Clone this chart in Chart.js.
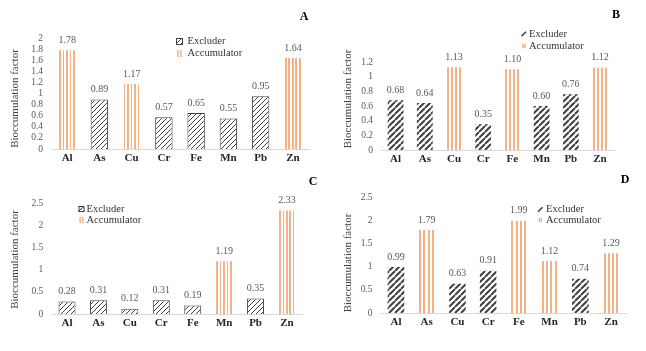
<!DOCTYPE html>
<html>
<head>
<meta charset="utf-8">
<script src="https://cdn.jsdelivr.net/npm/chart.js@4.4.0/dist/chart.umd.min.js"></script>
<style>
  html, body { margin: 0; padding: 0; background: #fff; }
  #wrap { position: relative; width: 646px; height: 351px; overflow: hidden; }
  canvas { position: absolute; }
</style>
</head>
<body>
<div id="wrap">
  <canvas id="chartA" width="323" height="175" style="left:0;top:0"></canvas>
  <canvas id="chartB" width="323" height="175" style="left:323px;top:0"></canvas>
  <canvas id="chartC" width="323" height="176" style="left:0;top:175px"></canvas>
  <canvas id="chartD" width="323" height="176" style="left:323px;top:175px"></canvas>
</div>
<script>
// metals on the x axis
const categories = ['Al', 'As', 'Cu', 'Cr', 'Fe', 'Mn', 'Pb', 'Zn'];
const seriesLabels = ['Excluder', 'Accumulator'];
const yTitle = 'Bioccumulation factor';

// values per panel (null = the metal is in the other group)
const excluderA    = [null, 0.89, null, 0.57, 0.65, 0.55, 0.95, null];
const accumulatorA = [1.78, null, 1.17, null, null, null, null, 1.64];
const excluderB    = [0.68, 0.64, null, 0.35, null, 0.60, 0.76, null];
const accumulatorB = [null, null, 1.13, null, 1.10, null, null, 1.12];
const excluderC    = [0.28, 0.31, 0.12, 0.31, 0.19, null, 0.35, null];
const accumulatorC = [null, null, null, null, null, 1.19, null, 2.33];
const excluderD    = [0.99, null, 0.63, 0.91, null, null, 0.74, null];
const accumulatorD = [null, 1.79, null, null, 1.99, 1.12, null, 1.29];

// y axis ticks per panel
const yMaxA = 2,   yStepA = 0.2;
const yMaxB = 1.2, yStepB = 0.2;
const yMaxC = 2.5, yStepC = 0.5;
const yMaxD = 2.5, yStepD = 0.5;

const FONT = '"Liberation Serif", "Times New Roman", serif';
const STRIPE = '#F4B183';
const HATCH = '#404040';
const CAT_PCT = 0.6, BAR_PCT = 0.9;

function hatchPattern(canvas, size, lw) {
  const t = document.createElement('canvas');
  t.width = t.height = size;
  const g = t.getContext('2d');
  g.fillStyle = '#fff';
  g.fillRect(0, 0, size, size);
  g.strokeStyle = HATCH;
  g.lineWidth = lw;
  g.beginPath();
  for (const o of [-size, 0, size]) {
    g.moveTo(o, size);
    g.lineTo(o + size, 0);
  }
  g.stroke();
  return canvas.getContext('2d').createPattern(t, 'repeat');
}

// vertical stripes lined up with each bar
function stripeFill(c, count) {
  const chart = c.chart;
  const xs = chart.scales.x;
  if (c.dataIndex === undefined || !xs || !chart.chartArea) return STRIPE;
  const cx = xs.getPixelForValue(c.dataIndex);
  const bw = (xs.width / categories.length) * CAT_PCT * BAR_PCT;
  const left = cx - bw / 2;
  const g = chart.ctx.createLinearGradient(left, 0, left + bw, 0);
  const p = 1 / count;
  for (let k = 0; k < count; k++) {
    const a = p * (k + 0.2), b = p * (k + 0.7);
    g.addColorStop(p * k, '#fff');
    g.addColorStop(a, '#fff');
    g.addColorStop(a, STRIPE);
    g.addColorStop(b, STRIPE);
    g.addColorStop(b, '#fff');
  }
  g.addColorStop(1, '#fff');
  return g;
}

const valueLabels = {
  id: 'valueLabels',
  afterDatasetsDraw(chart) {
    const ctx = chart.ctx;
    ctx.save();
    ctx.font = '10px ' + FONT;
    ctx.fillStyle = '#595959';
    ctx.textAlign = 'center';
    ctx.textBaseline = 'bottom';
    chart.data.datasets.forEach((ds, di) => {
      chart.getDatasetMeta(di).data.forEach((bar, i) => {
        const v = ds.data[i];
        if (v == null) return;
        ctx.fillText(v.toFixed(2), bar.x, bar.y - 5);
      });
    });
    ctx.restore();
  }
};

// panel letter, y title and the small legend inside the plot
const panelDecor = {
  id: 'panelDecor',
  afterDraw(chart, args, o) {
    const ctx = chart.ctx;
    ctx.save();
    ctx.fillStyle = '#000';
    ctx.font = 'bold 12px ' + FONT;
    ctx.textAlign = 'center';
    ctx.textBaseline = 'middle';
    ctx.fillText(o.letter, o.letterX, o.letterY);

    ctx.save();
    ctx.translate(o.titleX, o.titleY);
    ctx.rotate(-Math.PI / 2);
    ctx.fillStyle = '#404040';
    ctx.font = '11px ' + FONT;
    ctx.fillText(yTitle, 0, 0);
    ctx.restore();

    const L = o.legend;
    const s = L.sw;
    // excluder swatch
    if (o.thick) {
      ctx.strokeStyle = HATCH;
      ctx.lineWidth = 1.6;
      ctx.beginPath();
      ctx.moveTo(L.sx, L.y1 + s / 2);
      ctx.lineTo(L.sx + s, L.y1 - s / 2);
      ctx.stroke();
    } else {
      ctx.fillStyle = chart.data.datasets[0].backgroundColor;
      ctx.fillRect(L.sx, L.y1 - s / 2, s, s);
      ctx.strokeStyle = HATCH;
      ctx.lineWidth = 1;
      ctx.strokeRect(L.sx + 0.5, L.y1 - s / 2 + 0.5, s - 1, s - 1);
    }
    // accumulator swatch
    ctx.fillStyle = STRIPE;
    ctx.fillRect(L.sx + s * 0.15, L.y2 - s / 2, 1.5, s);
    ctx.fillRect(L.sx + s * 0.6, L.y2 - s / 2, 1.5, s);

    ctx.fillStyle = '#333';
    ctx.font = '10.5px ' + FONT;
    ctx.textAlign = 'left';
    ctx.fillText(seriesLabels[0], L.tx, L.y1);
    ctx.fillText(seriesLabels[1], L.tx, L.y2);
    ctx.restore();
  }
};

function makePanel(id, exc, acc, yMax, yStep, cfg) {
  const canvas = document.getElementById(id);
  const fill = cfg.thick ? hatchPattern(canvas, 6, 2) : hatchPattern(canvas, 5, 1);
  new Chart(canvas, {
    type: 'bar',
    data: {
      labels: categories,
      datasets: [
        {
          label: seriesLabels[0],
          data: exc,
          backgroundColor: fill,
          borderColor: HATCH,
          borderWidth: cfg.thick ? 0 : 1,
          grouped: false,
          categoryPercentage: CAT_PCT,
          barPercentage: BAR_PCT
        },
        {
          label: seriesLabels[1],
          data: acc,
          backgroundColor: c => stripeFill(c, cfg.stripes),
          borderWidth: 0,
          grouped: false,
          categoryPercentage: CAT_PCT,
          barPercentage: BAR_PCT
        }
      ]
    },
    options: {
      responsive: false,
      animation: false,
      events: [],
      layout: { padding: { left: 0, top: cfg.area.t, right: cfg.padRight, bottom: cfg.padBottom } },
      plugins: {
        legend: { display: false },
        tooltip: { enabled: false },
        panelDecor: cfg.decor
      },
      scales: {
        x: {
          grid: { display: false, drawTicks: false },
          border: { display: true, color: '#d9d9d9', width: 1 },
          ticks: { color: '#262626', font: { family: FONT, size: 11, weight: 'bold' }, padding: 3 },
          afterFit: s => { s.height = 20; }
        },
        y: {
          min: 0,
          max: yMax,
          grid: { display: false, drawTicks: false },
          border: { display: false },
          ticks: {
            stepSize: yStep,
            autoSkip: false,
            color: '#595959',
            font: { family: FONT, size: 9.5 },
            padding: 8,
            callback: v => String(parseFloat(v.toFixed(2)))
          },
          afterFit: s => { s.width = cfg.area.l; }
        }
      }
    },
    plugins: [valueLabels, panelDecor]
  });
}

makePanel('chartA', excluderA, accumulatorA, yMaxA, yStepA, {
  thick: false, stripes: 5,
  area: { l: 51, t: 38 }, padRight: 14, padBottom: 6,
  decor: { letter: 'A', letterX: 304, letterY: 17, titleX: 15, titleY: 98.5,
    legend: { sx: 176, sw: 7, tx: 187.5, y1: 41.5, y2: 53.5 } }
});
makePanel('chartB', excluderB, accumulatorB, yMaxB, yStepB, {
  thick: true, stripes: 4,
  area: { l: 58, t: 62 }, padRight: 31.4, padBottom: 5,
  decor: { letter: 'B', letterX: 293, letterY: 15, titleX: 25, titleY: 99, thick: true,
    legend: { sx: 198.5, sw: 4.5, tx: 206, y1: 34, y2: 46 } }
});
makePanel('chartC', excluderC, accumulatorC, yMaxC, yStepC, {
  thick: false, stripes: 5,
  area: { l: 51.3, t: 28 }, padRight: 20.3, padBottom: 17,
  decor: { letter: 'C', letterX: 313, letterY: 7, titleX: 15, titleY: 84.5,
    legend: { sx: 78.5, sw: 6, tx: 86.5, y1: 34, y2: 45 } }
});
makePanel('chartD', excluderD, accumulatorD, yMaxD, yStepD, {
  thick: true, stripes: 4,
  area: { l: 57.6, t: 22 }, padRight: 19.6, padBottom: 18,
  decor: { letter: 'D', letterX: 302, letterY: 5, titleX: 25, titleY: 88, thick: true,
    legend: { sx: 215, sw: 4.5, tx: 223, y1: 34.5, y2: 45 } }
});
</script>
</body>
</html>
